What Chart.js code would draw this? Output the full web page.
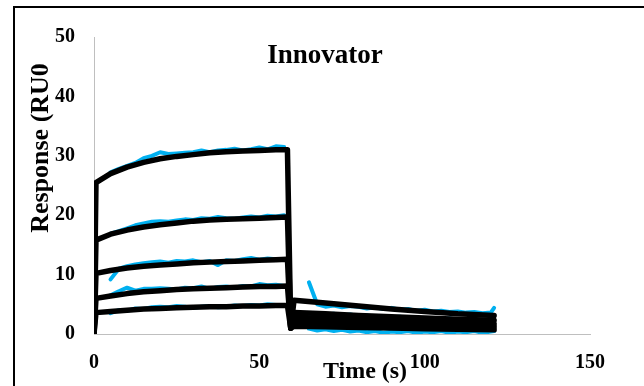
<!DOCTYPE html>
<html>
<head>
<meta charset="utf-8">
<script src="https://cdn.jsdelivr.net/npm/chart.js@4.4.1/dist/chart.umd.min.js"></script>
<style>
  html, body { margin: 0; padding: 0; background: #fff; }
  #wrap { position: relative; width: 644px; height: 386px; }
</style>
</head>
<body>
<div id="wrap"><canvas id="chart" width="644" height="386"></canvas></div>
<script>
// тики осей
const xTicks = [0, 50, 100, 150];
const yTicks = [0, 10, 20, 30, 40, 50];

// время для аппроксимирующих кривых (чёрные)
const fitTime = [0, 0.6, 5, 10, 15, 20, 25, 30, 35, 40, 45, 50, 55, 58.5, 59.5, 60.5, 70, 80, 90, 100, 110, 121];
const fit1 = [0, 25.5, 27.0, 28.1, 28.9, 29.5, 29.9, 30.2, 30.5, 30.7, 30.8, 30.9, 31.0, 31.0, 1.0, 5.7, 5.2, 4.7, 4.2, 3.8, 3.4, 3.1];
const fit2 = [0, 15.8, 16.8, 17.5, 18.0, 18.4, 18.7, 19.0, 19.2, 19.3, 19.4, 19.5, 19.6, 19.7, 1.0, 3.6, 3.4, 3.1, 2.9, 2.7, 2.5, 2.3];
const fit3 = [0, 10.2, 10.7, 11.1, 11.4, 11.6, 11.8, 12.0, 12.1, 12.2, 12.3, 12.4, 12.5, 12.6, 1.0, 2.8, 2.6, 2.4, 2.2, 2.0, 1.9, 1.7];
const fit4 = [0, 6.0, 6.4, 6.8, 7.1, 7.3, 7.5, 7.6, 7.7, 7.8, 7.9, 8.0, 8.0, 8.1, 1.0, 2.0, 1.9, 1.7, 1.6, 1.4, 1.3, 1.2];
const fit5 = [0, 3.6, 3.8, 4.0, 4.2, 4.3, 4.4, 4.5, 4.6, 4.6, 4.7, 4.7, 4.8, 4.8, 1.0, 1.3, 1.2, 1.1, 1.0, 0.9, 0.8, 0.7];

// время для измеренных данных (голубые)
const assocTime = [5, 7.5, 10, 12.5, 15, 17.5, 20, 22.5, 25, 27.5, 30, 32.5, 35, 37.5, 40, 42.5, 45, 47.5, 50, 52.5, 55, 57.5];
const dissocTime = [65, 67.5, 70, 72.5, 75, 77.5, 80, 82.5, 85, 87.5, 90, 92.5, 95, 97.5, 100, 102.5, 105, 107.5, 110, 112.5, 115, 117.5, 120, 121];

const assoc1 = [27.2, 27.8, 28.3, 28.8, 29.6, 30.0, 30.6, 30.3, 30.4, 30.5, 30.6, 30.9, 30.6, 30.9, 31.0, 31.2, 30.9, 31.1, 31.4, 31.1, 31.6, 31.5];
const assoc2 = [16.9, 17.3, 17.8, 18.3, 18.6, 18.9, 19.0, 18.9, 19.1, 19.3, 19.2, 19.5, 19.4, 19.7, 19.5, 19.4, 19.6, 19.8, 19.6, 19.9, 19.8, 20.0];
const assoc3 = [9.2, 11.0, 11.4, 11.7, 11.9, 12.1, 12.2, 12.0, 12.3, 12.2, 12.4, 12.1, 12.3, 11.6, 12.4, 12.3, 12.6, 12.8, 12.5, 12.7, 12.6, 12.5];
const assoc4 = [6.5, 7.2, 7.8, 7.3, 7.6, 7.6, 7.7, 7.6, 7.5, 7.8, 7.7, 8.0, 7.6, 7.9, 8.0, 7.8, 8.1, 8.0, 8.4, 8.2, 8.3, 8.1];
const assoc5 = [3.5, 4.0, 3.9, 4.3, 4.2, 4.5, 4.6, 4.5, 4.7, 4.6, 4.4, 4.6, 4.7, 4.5, 4.6, 4.8, 4.7, 4.9, 4.8, 5.0, 4.9, 4.7];

const dissoc1 = [8.7, 5.0, 4.6, 4.8, 4.5, 4.7, 4.6, 4.3, 4.5, 4.2, 4.4, 4.1, 4.2, 3.9, 4.1, 3.8, 3.9, 3.7, 3.8, 3.6, 3.7, 3.5, 3.6, 4.4];
const dissoc2 = [3.4, 3.5, 3.2, 3.4, 3.1, 3.3, 3.0, 3.1, 2.9, 3.0, 2.8, 2.9, 2.7, 2.8, 2.6, 2.7, 2.5, 2.6, 2.4, 2.5, 2.3, 2.4, 2.3, 2.2];
const dissoc3 = [2.5, 2.2, 2.6, 2.3, 2.4, 2.1, 2.3, 2.0, 2.2, 1.9, 2.1, 1.8, 2.0, 1.7, 1.9, 1.6, 1.8, 1.5, 1.7, 1.4, 1.6, 1.4, 1.5, 1.6];
const dissoc4 = [1.6, 1.4, 1.7, 1.3, 1.5, 1.2, 1.4, 1.1, 1.3, 1.0, 1.2, 0.9, 1.1, 0.8, 1.0, 0.8, 0.9, 0.7, 1.0, 0.8, 0.9, 0.7, 0.8, 0.9];
const dissoc5 = [0.9, 0.6, 0.8, 0.5, 0.7, 0.4, 0.6, 0.3, 0.5, 0.2, 0.4, 0.3, 0.5, 0.2, 0.4, 0.3, 0.5, 0.2, 0.4, 0.3, 0.5, 0.2, 0.4, 0.5];

const BLUE = '#00B0F0';
const SERIF = '"Liberation Serif", "Times New Roman", serif';

function pts(xs, ys) {
  return xs.map((x, i) => ({ x: x, y: ys[i] }));
}
// ассоциация + разрыв + диссоциация
function raw(a, d) {
  return pts(assocTime, a).concat([{ x: 62, y: null }], pts(dissocTime, d));
}

const fits = [fit1, fit2, fit3, fit4, fit5];
const blues = [[assoc1, dissoc1], [assoc2, dissoc2], [assoc3, dissoc3], [assoc4, dissoc4], [assoc5, dissoc5]];

const datasets = [];
fits.forEach(f => {
  datasets.push({
    data: pts(fitTime, f),
    borderColor: '#000',
    borderWidth: 5.5,
    borderJoinStyle: 'round',
    borderCapStyle: 'round',
    pointRadius: 0,
    order: 0
  });
});
blues.forEach(b => {
  datasets.push({
    data: raw(b[0], b[1]),
    borderColor: BLUE,
    borderWidth: 4,
    borderJoinStyle: 'round',
    borderCapStyle: 'round',
    pointRadius: 0,
    spanGaps: false,
    order: 1
  });
});

// рамка и подписи
const decor = {
  id: 'decor',
  beforeDraw(chart) {
    const c = chart.ctx;
    c.save();
    c.fillStyle = '#fff';
    c.fillRect(0, 0, chart.width, chart.height);
    c.restore();
  },
  afterDraw(chart) {
    const c = chart.ctx;
    c.save();
    c.strokeStyle = '#000';
    c.lineWidth = 2;
    c.beginPath();
    c.moveTo(14, 400);
    c.lineTo(14, 7);
    c.lineTo(660, 7);
    c.stroke();

    c.fillStyle = '#000';
    c.textAlign = 'center';
    c.textBaseline = 'alphabetic';
    c.font = 'bold 27px ' + SERIF;
    c.fillText('Innovator', 325, 63);
    c.font = 'bold 24px ' + SERIF;
    c.fillText('Time (s)', 365, 378);
    c.translate(48, 148);
    c.rotate(-Math.PI / 2);
    c.font = 'bold 26px ' + SERIF;
    c.fillText('Response (RU0', 0, 0);
    c.restore();
  }
};

new Chart(document.getElementById('chart'), {
  type: 'line',
  data: { datasets: datasets },
  options: {
    responsive: false,
    animation: false,
    events: [],
    layout: { padding: { left: 0, top: 37, right: 54, bottom: 0 }, autoPadding: false },
    plugins: { legend: { display: false }, tooltip: { enabled: false }, title: { display: false } },
    elements: { line: { tension: 0 } },
    scales: {
      x: {
        type: 'linear',
        min: 0,
        max: 150,
        afterBuildTicks: s => { s.ticks = xTicks.map(v => ({ value: v })); },
        afterFit: s => { s.height = 52; },
        grid: { display: false, drawTicks: false },
        border: { display: true, color: '#bfbfbf', width: 1 },
        ticks: { color: '#000', padding: 17, maxRotation: 0, font: { family: SERIF, size: 20, weight: 'bold' } }
      },
      y: {
        min: 0,
        max: 50,
        afterBuildTicks: s => { s.ticks = yTicks.map(v => ({ value: v })); },
        afterFit: s => { s.width = 94; },
        grid: { display: false, drawTicks: false },
        border: { display: true, color: '#bfbfbf', width: 1 },
        ticks: { color: '#000', padding: 19, font: { family: SERIF, size: 20, weight: 'bold' } }
      }
    }
  },
  plugins: [decor]
});
</script>
</body>
</html>
